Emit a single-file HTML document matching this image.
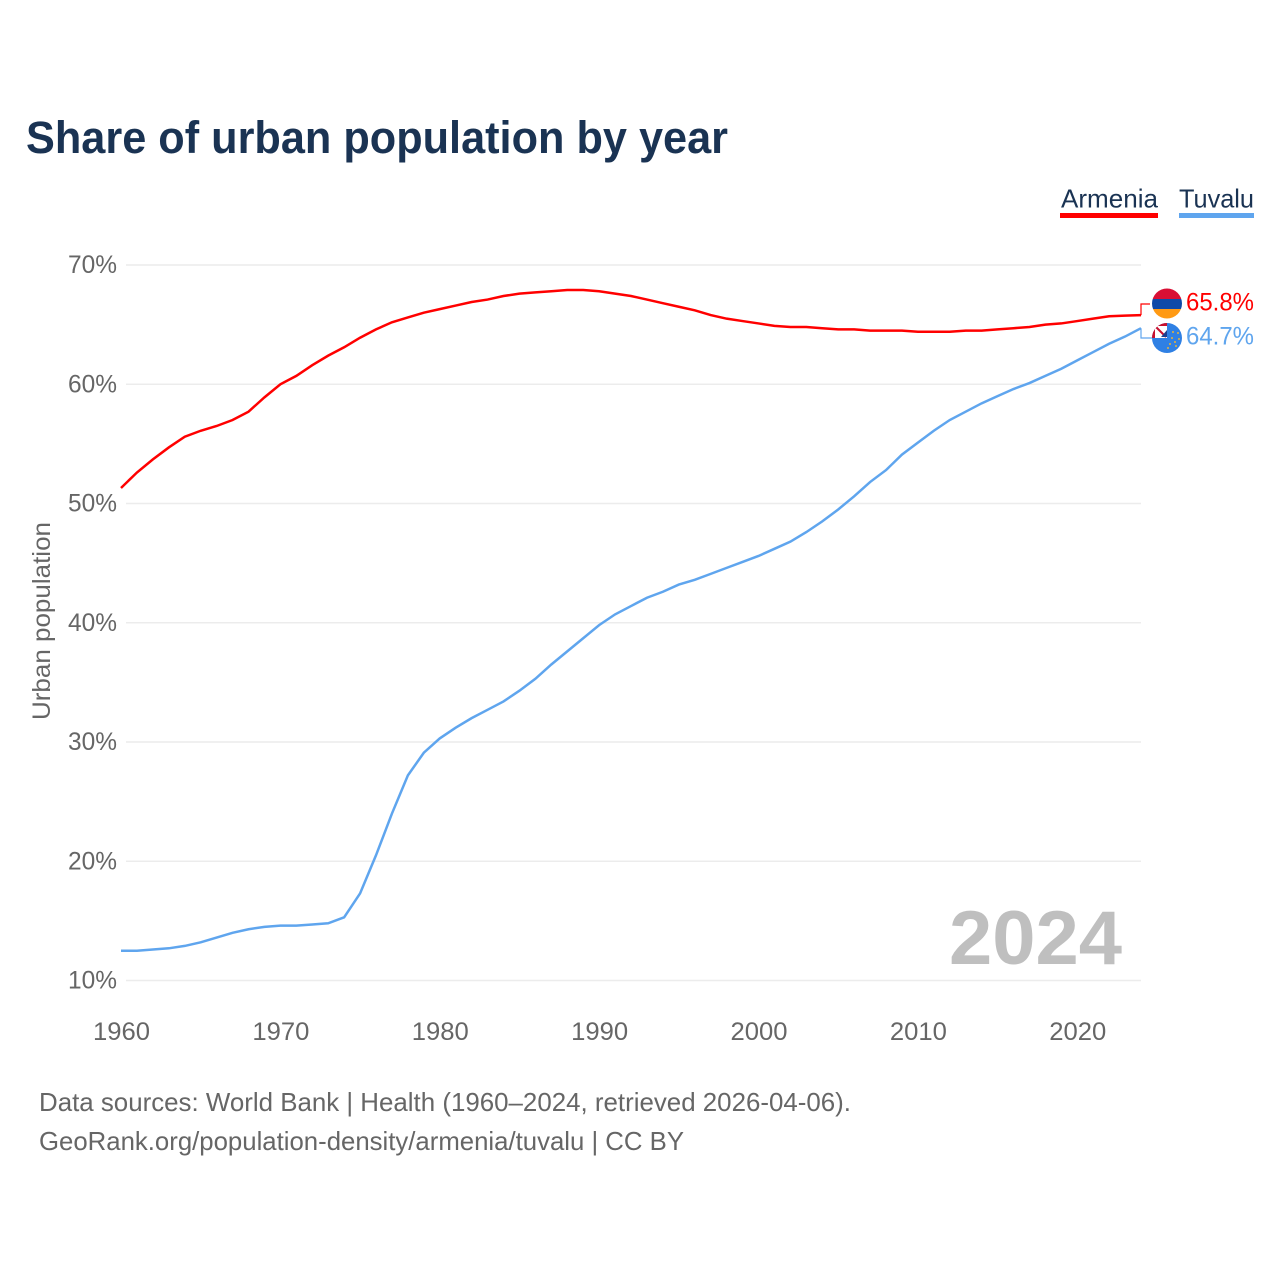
<!DOCTYPE html>
<html lang="en">
<head>
<meta charset="utf-8">
<title>Share of urban population by year</title>
<style>
html,body{margin:0;padding:0;background:#fff;}
svg{display:block;}
text{font-family:"Liberation Sans",sans-serif;}
</style>
</head>
<body>
<svg id="chart" xmlns="http://www.w3.org/2000/svg" width="1280" height="1280" viewBox="0 0 1280 1280">
  <defs>
    <clipPath id="clip-am"><circle cx="1167" cy="303.5" r="15"/></clipPath>
    <clipPath id="clip-tv"><circle cx="1167" cy="338" r="15"/></clipPath>
  </defs>
  <rect width="1280" height="1280" fill="#fff"/>
  <text x="26" y="153" font-size="45" font-weight="700" fill="#1a3353" textLength="702" lengthAdjust="spacingAndGlyphs">Share of urban population by year</text>

  <g>
    <g>
      <text x="1061" y="207.5" font-size="26" fill="#1a3353" textLength="97" lengthAdjust="spacingAndGlyphs">Armenia</text>
      <rect x="1060" y="213" width="98" height="5" fill="#ff0000"/>
    </g>
    <g>
      <text x="1179" y="207.5" font-size="26" fill="#1a3353" textLength="75" lengthAdjust="spacingAndGlyphs">Tuvalu</text>
      <rect x="1179" y="213" width="75" height="5" fill="#5fa5ee"/>
    </g>
  </g>

  <g id="grid"></g>
  <g id="y-axis"></g>
  <g id="x-axis"></g>
  <text transform="translate(50,720) rotate(-90)" font-size="25" fill="#666" textLength="198" lengthAdjust="spacingAndGlyphs">Urban population</text>

  <text x="949" y="964" font-size="76" font-weight="700" fill="#bfbfbf" textLength="173" lengthAdjust="spacingAndGlyphs">2024</text>

  <g id="series"></g>

  <g clip-path="url(#clip-am)">
    <rect x="1152" y="288" width="30" height="11" fill="#d90f35"/>
    <rect x="1152" y="299" width="30" height="10" fill="#0f4aa8"/>
    <rect x="1152" y="309" width="30" height="10" fill="#ff9a14"/>
  </g>
  <g clip-path="url(#clip-tv)">
    <rect x="1152" y="323" width="30" height="30" fill="#2f80e4"/>
    <rect x="1152" y="323" width="15" height="15" fill="#c8102e"/>
    <rect x="1155" y="326" width="12" height="12" fill="#ffffff"/>
    <path d="M1156 327 L1166 337" stroke="#c8102e" stroke-width="2"/>
    <path d="M1167 330 L1161 337 L1167 337 Z" fill="#1d3f8f"/>
    <g fill="#e6b23c">
      <circle cx="1173" cy="332" r="1"/>
      <circle cx="1178" cy="333" r="1"/>
      <circle cx="1172" cy="338" r="1"/>
      <circle cx="1179" cy="339" r="1"/>
      <circle cx="1175" cy="342" r="1"/>
      <circle cx="1170" cy="344" r="1"/>
      <circle cx="1176" cy="346" r="1"/>
      <circle cx="1168" cy="348" r="1"/>
    </g>
  </g>

  <text id="value-armenia" x="1186" y="310.5" font-size="25" fill="#ff0000" textLength="68" lengthAdjust="spacingAndGlyphs"></text>
  <text id="value-tuvalu" x="1186" y="344.5" font-size="25" fill="#5fa5ee" textLength="68" lengthAdjust="spacingAndGlyphs"></text>

  <text x="39" y="1111" font-size="26" fill="#666" textLength="812" lengthAdjust="spacingAndGlyphs">Data sources: World Bank | Health (1960–2024, retrieved 2026-04-06).</text>
  <text x="39" y="1150" font-size="26" fill="#666" textLength="645" lengthAdjust="spacingAndGlyphs">GeoRank.org/population-density/armenia/tuvalu | CC BY</text>
</svg>
<script>
var years = [1960,1961,1962,1963,1964,1965,1966,1967,1968,1969,1970,1971,1972,1973,1974,1975,1976,1977,1978,1979,1980,1981,1982,1983,1984,1985,1986,1987,1988,1989,1990,1991,1992,1993,1994,1995,1996,1997,1998,1999,2000,2001,2002,2003,2004,2005,2006,2007,2008,2009,2010,2011,2012,2013,2014,2015,2016,2017,2018,2019,2020,2021,2022,2023,2024];
var armeniaValues = [51.3,52.6,53.7,54.7,55.6,56.1,56.5,57.0,57.7,58.9,60.0,60.7,61.6,62.4,63.1,63.9,64.6,65.2,65.6,66.0,66.3,66.6,66.9,67.1,67.4,67.6,67.7,67.8,67.9,67.9,67.8,67.6,67.4,67.1,66.8,66.5,66.2,65.8,65.5,65.3,65.1,64.9,64.8,64.8,64.7,64.6,64.6,64.5,64.5,64.5,64.4,64.4,64.4,64.5,64.5,64.6,64.7,64.8,65.0,65.1,65.3,65.5,65.7,65.75,65.8];
var tuvaluValues = [12.5,12.5,12.6,12.7,12.9,13.2,13.6,14.0,14.3,14.5,14.6,14.6,14.7,14.8,15.3,17.3,20.5,24.0,27.2,29.1,30.3,31.2,32.0,32.7,33.4,34.3,35.3,36.5,37.6,38.7,39.8,40.7,41.4,42.1,42.6,43.2,43.6,44.1,44.6,45.1,45.6,46.2,46.8,47.6,48.5,49.5,50.6,51.8,52.8,54.1,55.1,56.1,57.0,57.7,58.4,59.0,59.6,60.1,60.7,61.3,62.0,62.7,63.4,64.0,64.7];
var yTicks = [10,20,30,40,50,60,70];
var xTicks = [1960,1970,1980,1990,2000,2010,2020];

var NS = 'http://www.w3.org/2000/svg';
function xScale(year){ return 121 + (year - 1960) * (1141 - 121) / (2024 - 1960); }
function yScale(v){ return 980.5 - (v - 10) * (980.5 - 265) / (70 - 10); }
function make(tag, parent){
  var el = document.createElementNS(NS, tag);
  parent.appendChild(el);
  return el;
}
var grid = document.getElementById('grid');
var yAxis = document.getElementById('y-axis');
var xAxis = document.getElementById('x-axis');
var series = document.getElementById('series');

yTicks.forEach(function(t){
  var line = make('line', grid);
  
  
  line.setAttribute('x1', 126);
  line.setAttribute('x2', 1141);
  line.setAttribute('y1', yScale(t));
  line.setAttribute('y2', yScale(t));
  line.setAttribute('stroke', '#ececec');
  line.setAttribute('stroke-width', '1.5');
  var label = make('text', yAxis);
  
  
  label.setAttribute('x', 68);
  label.setAttribute('y', yScale(t) + 8);
  label.setAttribute('font-size', '25');
  label.setAttribute('fill', '#666');
  label.setAttribute('textLength', '49');
  label.setAttribute('lengthAdjust', 'spacingAndGlyphs');
  label.textContent = t + '%';
});

xTicks.forEach(function(t){
  var label = make('text', xAxis);
  
  
  label.setAttribute('x', xScale(t) - 28);
  label.setAttribute('y', 1040);
  label.setAttribute('font-size', '25');
  label.setAttribute('fill', '#666');
  label.setAttribute('textLength', '57');
  label.setAttribute('lengthAdjust', 'spacingAndGlyphs');
  label.textContent = t;
});

function pathFrom(values){
  return values.map(function(v, i){
    return (i ? 'L' : 'M') + xScale(years[i]).toFixed(2) + ' ' + yScale(v).toFixed(2);
  }).join(' ');
}

var armeniaLine = make('path', series);


armeniaLine.setAttribute('d', pathFrom(armeniaValues));
armeniaLine.setAttribute('fill', 'none');
armeniaLine.setAttribute('stroke', '#ff0000');
armeniaLine.setAttribute('stroke-width', '2.5');

var tuvaluLine = make('path', series);


tuvaluLine.setAttribute('d', pathFrom(tuvaluValues));
tuvaluLine.setAttribute('fill', 'none');
tuvaluLine.setAttribute('stroke', '#5fa5ee');
tuvaluLine.setAttribute('stroke-width', '2.5');

var lastA = armeniaValues[armeniaValues.length - 1];
var lastT = tuvaluValues[tuvaluValues.length - 1];

var leaderA = make('path', series);


leaderA.setAttribute('d', 'M' + xScale(2024) + ' ' + yScale(lastA) + ' V304 H1150');
leaderA.setAttribute('fill', 'none');
leaderA.setAttribute('stroke', '#ff0000');
leaderA.setAttribute('stroke-width', '1.2');

var leaderT = make('path', series);


leaderT.setAttribute('d', 'M' + xScale(2024) + ' ' + yScale(lastT) + ' V338 H1152');
leaderT.setAttribute('fill', 'none');
leaderT.setAttribute('stroke', '#5fa5ee');
leaderT.setAttribute('stroke-width', '1.2');

document.getElementById('value-armenia').textContent = lastA.toFixed(1) + '%';
document.getElementById('value-tuvalu').textContent = lastT.toFixed(1) + '%';
</script>
</body>
</html>
